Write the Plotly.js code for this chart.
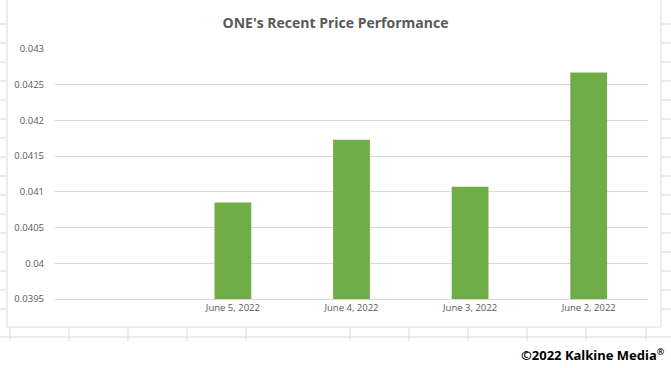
<!DOCTYPE html>
<html>
<head>
<meta charset="utf-8">
<script src="https://cdn.plot.ly/plotly-3.0.1.min.js"></script>
<style>html,body{margin:0;padding:0;background:#fff;}#chart{width:671px;height:368px;}</style>
</head>
<body>
<div id="chart"></div>
<script>
const categories = ['June 5, 2022', 'June 4, 2022', 'June 3, 2022', 'June 2, 2022'];
const prices = [0.04085, 0.04173, 0.04107, 0.04267];
const yTicks = [0.0395, 0.04, 0.0405, 0.041, 0.0415, 0.042, 0.0425, 0.043];
const yTickLabels = ['0.0395', '0.04', '0.0405', '0.041', '0.0415', '0.042', '0.0425', '0.043'];

// plot area in pixels: x 55..648, y 49..299
const L = 55, R = 648, T = 49, B = 299;
const px = x => (x - L) / (R - L);
const py = y => (B - y) / (B - T);
const grey = '#d9d9d9';
const shapes = [];
// chart frame (left, right, bottom)
shapes.push({type:'line', xref:'paper', yref:'paper', x0:px(7), x1:px(7), y0:py(0), y1:py(327), line:{color:grey, width:1}});
shapes.push({type:'line', xref:'paper', yref:'paper', x0:px(661), x1:px(661), y0:py(0), y1:py(327), line:{color:grey, width:1}});
shapes.push({type:'line', xref:'paper', yref:'paper', x0:px(7), x1:px(661), y0:py(327), y1:py(327), line:{color:grey, width:1}});
// spreadsheet cell lines below the chart
shapes.push({type:'line', xref:'paper', yref:'paper', x0:px(0), x1:px(671), y0:py(337), y1:py(337), line:{color:grey, width:1}});
[10, 69, 128, 187, 246, 350, 409, 468, 527, 586, 646].forEach(x => {
  shapes.push({type:'line', xref:'paper', yref:'paper', x0:px(x), x1:px(x), y0:py(327), y1:py(341), line:{color:grey, width:1}});
});
// row stubs at the edges
for (let y = 24; y < 327; y += 19) {
  shapes.push({type:'line', xref:'paper', yref:'paper', x0:px(0), x1:px(6), y0:py(y), y1:py(y), line:{color:grey, width:1}});
  shapes.push({type:'line', xref:'paper', yref:'paper', x0:px(662), x1:px(671), y0:py(y), y1:py(y), line:{color:grey, width:1}});
}

const data = [{
  type: 'bar',
  x: categories,
  y: prices,
  marker: {color: '#70ad47'},
  hoverinfo: 'x+y'
}];

const layout = {
  width: 671, height: 368,
  margin: {l: L, r: 671 - R, t: T, b: 368 - B, pad: 0},
  paper_bgcolor: '#ffffff', plot_bgcolor: '#ffffff',
  showlegend: false,
  bargap: 0.69,
  title: {text: "ONE's Recent Price Performance", x: 0.5, xanchor: 'center', y: 1 - 23/368, yanchor: 'middle',
          font: {family: 'Open Sans, sans-serif', size: 14, color: '#595959', weight: 'bold'}},
  xaxis: {type: 'category', categoryorder: 'array', categoryarray: categories, range: [-1.5, 3.5],
          showgrid: false, zeroline: false, showline: true, linecolor: grey, linewidth: 1,
          ticks: '', ticklen: 0, tickfont: {family: 'Open Sans, sans-serif', size: 9.5, color: '#595959'}, fixedrange: true},
  yaxis: {range: [0.0395, 0.043], tickvals: yTicks, ticktext: yTickLabels, showgrid: true, gridcolor: grey, gridwidth: 1,
          zeroline: false, showline: false, ticks: '', ticklabelstandoff: 10,
          tickfont: {family: 'Open Sans, sans-serif', size: 9.5, color: '#595959'}, fixedrange: true},
  shapes: shapes,
  annotations: [{text: '©2022 Kalkine Media<sup>®</sup>', xref: 'paper', yref: 'paper', x: px(667), y: py(354),
                 xanchor: 'right', yanchor: 'middle', showarrow: false,
                 font: {family: 'Noto Sans, sans-serif', size: 13, color: '#000000', weight: 'bold'}}]
};

Plotly.newPlot('chart', data, layout, {displayModeBar: false, staticPlot: true});
</script>
</body>
</html>
